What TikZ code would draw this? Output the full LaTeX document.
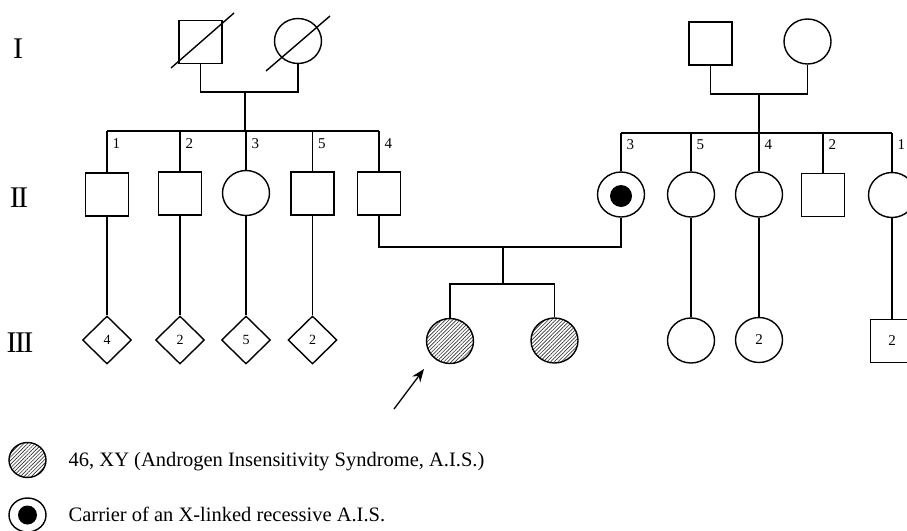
\documentclass[tikz,border=0pt]{standalone}
\usepackage{fontspec}
\setmainfont{Liberation Serif}
\usetikzlibrary{shapes.geometric,patterns.meta,arrows.meta}
\begin{document}
\begin{tikzpicture}[x=1pt,y=-1pt,
  line width=1.4pt,
  sq/.style={draw,rectangle,minimum size=43pt,inner sep=0pt,font=\fontsize{15}{15}\selectfont},
  ci/.style={draw,ellipse,minimum width=47pt,minimum height=45pt,inner sep=0pt,font=\fontsize{15}{15}\selectfont},
  dm/.style={draw,diamond,minimum width=49pt,minimum height=48pt,inner sep=0pt,font=\fontsize{14}{14}\selectfont},
  hatch/.style={pattern={Lines[angle=45,distance=2.6pt,line width=0.65pt]},pattern color=black!80},
  aff/.style={ci,hatch},
  num/.style={anchor=west,inner sep=0pt,font=\fontsize{15}{15}\selectfont},
  gen/.style={inner sep=0pt,font=\fontsize{30}{30}\selectfont},
  lg/.style={anchor=west,inner sep=0pt,font=\fontsize{20.5}{24}\selectfont}]
\useasboundingbox (0,0) rectangle (907,530);

% generation labels
\node[gen] (gI) at (18,49) {I};
\node[gen] (gII) at (19,198) {I\kern-1.5ptI};
\node[gen] (gIII) at (20,343) {I\kern-1.5ptI\kern-1.5ptI};

% ---- left family, generation I
\node[sq] (L1) at (200.5,42) {};
\node[ci] (L2) at (298,41) {};
\draw (171,68) -- (234,13);
\draw (266,71) -- (330,16);
\coordinate (mL) at (245,92);
\coordinate (sL) at (245,131);
\draw (L1.south) -- (L1.south |- mL) -- (L2.south |- mL) -- (L2.south);
\draw (mL) -- (sL);

% generation II (left)
\node[sq] (La) at (107,194.5) {};
\node[sq] (Lb) at (180,193.5) {};
\node[ci] (Lc) at (246,193) {};
\node[sq] (Ld) at (312.5,193.5) {};
\node[sq] (Le) at (379,193.5) {};
\draw (La.north |- sL) -- (Le.north |- sL);
\foreach \n/\t in {La/1,Lb/2,Lc/3,Ld/5,Le/4}{
  \draw (\n.north) -- (\n.north |- sL);
  \node[num] at ([xshift=5pt]\n.north |- 0,144) {\t};
}

% generation III (left)
\node[dm] (Da) at (107,340) {4};
\node[dm] (Db) at (180,340) {2};
\node[dm] (Dc) at (246,340) {5};
\node[dm] (Dd) at (312.5,340) {2};
\draw (La.south) -- (Da.north);
\draw (Lb.south) -- (Db.north);
\draw (Lc.south) -- (Dc.north);
\draw (Ld.south) -- (Dd.north);

% ---- right family, generation I
\node[sq] (R1) at (710.5,43.5) {};
\node[ci] (R2) at (807.5,41.5) {};
\coordinate (mR) at (759,94);
\coordinate (sR) at (759,133);
\draw (R1.south) -- (R1.south |- mR) -- (R2.south |- mR) -- (R2.south);
\draw (mR) -- (sR);

% generation II (right)
\node[ci] (Ra) at (621,194.5) {};
\fill (Ra.center) ++(0,1.5) circle[radius=11];
\node[ci] (Rb) at (691,194.5) {};
\node[ci] (Rc) at (759,194.5) {};
\node[sq] (Rd) at (823,195) {};
\node[ci] (Re) at (892,195) {};
\draw (Ra.north |- sR) -- (Re.north |- sR);
\foreach \n/\t in {Ra/3,Rb/5,Rc/4,Rd/2,Re/1}{
  \draw (\n.north) -- (\n.north |- sR);
  \node[num] at ([xshift=5pt]\n.north |- 0,145) {\t};
}

% marriage II and children
\coordinate (mC) at (503,247);
\coordinate (sC) at (503,284);
\draw (Le.south) -- (Le.south |- mC) -- (Ra.south |- mC) -- (Ra.south);
\draw (mC) -- (sC);
\node[aff] (A1) at (450,341) {};
\node[aff] (A2) at (554.5,340.5) {};
\draw (A1.north) -- (A1.north |- sC) -- (A2.north |- sC) -- (A2.north);

% generation III (right)
\node[ci] (Rf) at (691,340.5) {};
\node[ci] (Rg) at (759,340) {2};
\node[sq] (Rh) at (892,341) {2};
\draw (Rb.south) -- (Rf.north);
\draw (Rc.south) -- (Rg.north);
\draw (Re.south) -- (Rh.north);

% proband arrow
\coordinate (arT) at (394,409);
\coordinate (arH) at (424,369);
\draw[line width=1.3pt,-{Stealth[length=13pt,width=10pt]}] (arT) -- (arH);

% legend
\node[draw,ellipse,minimum width=37pt,minimum height=35pt,inner sep=0pt,hatch] (lg1) at (27.5,460) {};
\node[lg] (lt1) at (68,462) {46, XY (Androgen Insensitivity Syndrome, A.I.S.)};
\node[draw,ellipse,minimum width=37pt,minimum height=34pt,inner sep=0pt] (lg2) at (27.5,515) {};
\fill (lg2.center) circle[radius=9.5];
\node[lg] (lt2) at (68,514) {Carrier of an X-linked recessive A.I.S.};
\end{tikzpicture}
\end{document}
